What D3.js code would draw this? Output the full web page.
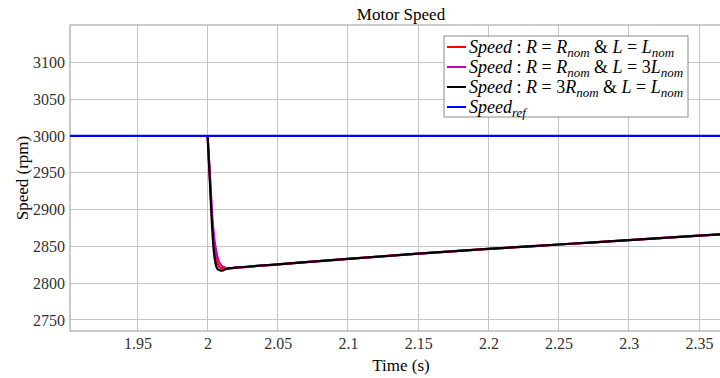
<!DOCTYPE html>
<html><head><meta charset="utf-8">
<script src="https://cdn.jsdelivr.net/npm/d3@7"></script>
<style>
body{margin:0;background:#fff;}
svg{display:block;}
svg text, svg .tick text{font-family:"Liberation Serif","Times New Roman",serif !important;}
</style></head>
<body><svg id="c" width="720" height="378"></svg>
<script>
const xTicks = [1.95, 2, 2.05, 2.1, 2.15, 2.2, 2.25, 2.3, 2.35];
const yTicks = [2750, 2800, 2850, 2900, 2950, 3000, 3050, 3100];
const xDomain = [1.902, 2.3735];
const yDomain = [2735, 3150.7];

const tRed = [2.0, 2.001, 2.002, 2.003, 2.004, 2.005, 2.006, 2.007, 2.008, 2.009, 2.010, 2.012, 2.014, 2.016, 2.02, 2.05, 2.1, 2.15, 2.2, 2.25, 2.3, 2.35, 2.375];
const speedRed = [3000, 2966, 2930, 2893, 2866, 2846, 2834, 2827, 2823, 2821, 2820.3, 2820, 2820.2, 2820.4, 2821, 2825.5, 2833, 2840, 2846.5, 2852.5, 2858.5, 2864.5, 2867.5];

const tMag = [2.0, 2.001, 2.002, 2.003, 2.004, 2.005, 2.006, 2.007, 2.008, 2.009, 2.010, 2.012, 2.014, 2.016, 2.02, 2.05, 2.1, 2.15, 2.2, 2.25, 2.3, 2.35, 2.375];
const speedMag = [3000, 2968, 2935, 2900, 2875, 2857, 2845, 2836, 2830, 2826, 2823.5, 2821.5, 2820.5, 2820.3, 2821, 2825.5, 2833, 2840, 2846.5, 2852.5, 2858.5, 2864.5, 2867.5];

const tBlack = [2.0, 2.001, 2.002, 2.003, 2.004, 2.005, 2.006, 2.007, 2.008, 2.009, 2.010, 2.011, 2.012, 2.014, 2.016, 2.02, 2.05, 2.1, 2.15, 2.2, 2.25, 2.3, 2.35, 2.375];
const speedBlack = [3000, 2962, 2922, 2883, 2853, 2834, 2824, 2819.5, 2818, 2817.3, 2817, 2817.4, 2818.3, 2819.5, 2820.2, 2821, 2825.5, 2833, 2840, 2846.5, 2852.5, 2858.5, 2864.5, 2867.5];

const tRef = [1.902, 2.3735];
const speedRef = [3000, 3000];

const seriesNames = [
  "Speed : R = R_{nom} & L = L_{nom}",
  "Speed : R = R_{nom} & L = 3L_{nom}",
  "Speed : R = 3R_{nom} & L = L_{nom}",
  "Speed_{ref}"
];
const seriesColors = ["#ff0000", "#c000c0", "#000000", "#0000ff"];

const title = "Motor Speed", xLabel = "Time (s)", yLabel = "Speed (rpm)";

const svg = d3.select("#c");
const m = {l:70, r:732, t:25, b:331};
const x = d3.scaleLinear().domain(xDomain).range([m.l, m.r]);
const y = d3.scaleLinear().domain(yDomain).range([m.b, m.t]);
const font = '"Liberation Serif","Times New Roman",serif';

// grid
const g = svg.append("g");
g.selectAll(".gx").data(xTicks).enter().append("line")
  .attr("x1", d=>x(d)).attr("x2", d=>x(d)).attr("y1", m.t).attr("y2", m.b)
  .attr("stroke", "#c6c6c6").attr("stroke-width", 1).attr("shape-rendering","crispEdges");
g.selectAll(".gy").data(yTicks).enter().append("line")
  .attr("x1", m.l).attr("x2", m.r).attr("y1", d=>y(d)).attr("y2", d=>y(d))
  .attr("stroke", "#c6c6c6").attr("stroke-width", 1).attr("shape-rendering","crispEdges");

// axes
const xAxis = d3.axisBottom(x).tickValues(xTicks).tickSize(0).tickPadding(7).tickFormat(d=>d3.format("")(d));
const yAxis = d3.axisLeft(y).tickValues(yTicks).tickSize(0).tickPadding(5).tickFormat(d3.format("d"));
const ax = svg.append("g").attr("transform", `translate(0,${m.b})`).call(xAxis);
const ay = svg.append("g").attr("transform", `translate(${m.l},0)`).call(yAxis);
[ax, ay].forEach(a => {
  a.attr("font-family", font).attr("font-size", 16);
  a.select(".domain").remove();
  a.selectAll("text").attr("font-family", font).attr("font-size", 16).attr("fill", "#333");
});
// box
svg.append("rect").attr("x", m.l).attr("y", m.t).attr("width", m.r-m.l).attr("height", m.b-m.t)
  .attr("fill","none").attr("stroke","#a8a8a8").attr("stroke-width",1.2);

// lines
const series = [
  [tRed, speedRed], [tMag, speedMag], [tBlack, speedBlack], [tRef, speedRef]
];
svg.append("clipPath").attr("id","cp").append("rect")
  .attr("x", m.l).attr("y", m.t).attr("width", m.r-m.l).attr("height", m.b-m.t);
const lg = svg.append("g").attr("clip-path","url(#cp)");
series.forEach((s,i) => {
  const pts = s[0].map((t,j)=>[t, s[1][j]]);
  lg.append("path").datum(pts).attr("d", d3.line().curve(d3.curveMonotoneX).x(d=>x(d[0])).y(d=>y(d[1])))
    .attr("fill","none").attr("stroke", seriesColors[i]).attr("stroke-width", 2.2)
    .attr("stroke-linejoin","round");
});

// titles
svg.append("text").attr("x", (m.l+m.r)/2).attr("y", 20).attr("text-anchor","middle")
  .attr("font-family", font).attr("font-size", 17).attr("fill","#000").text(title);
svg.append("text").attr("x", (m.l+m.r)/2).attr("y", 371).attr("text-anchor","middle")
  .attr("font-family", font).attr("font-size", 17).attr("fill","#000").text(xLabel);
svg.append("text").attr("transform", `translate(28,${(m.t+m.b)/2}) rotate(-90)`).attr("text-anchor","middle")
  .attr("font-family", font).attr("font-size", 17).attr("fill","#000").text(yLabel);

// legend
const lx = 444, ly = 36, lw = 244, lh = 81;
const leg = svg.append("g");
leg.append("rect").attr("x", lx).attr("y", ly).attr("width", lw).attr("height", lh)
  .attr("fill","#fff").attr("stroke","#8c8c8c").attr("stroke-width",1);
seriesNames.forEach((name, i) => {
  const cy = ly + 11 + i*20;
  leg.append("line").attr("x1", lx+3).attr("x2", lx+22).attr("y1", cy).attr("y2", cy)
    .attr("stroke", seriesColors[i]).attr("stroke-width", 2);
  const txt = leg.append("text").attr("x", lx+25).attr("y", cy+6)
    .attr("font-family", font).attr("font-size", 18).attr("fill","#000");
  const re = /([^_]+)|_\{([^}]*)\}/g;
  let mm, sub = false;
  while ((mm = re.exec(name)) !== null) {
    if (mm[1] !== undefined) {
      const parts = mm[1].split(/([:=&]|\d)/).filter(p=>p.trim().length);
      parts.forEach(p => {
        const isOp = /^[:=&]$/.test(p);
        const isNum = /^\d$/.test(p);
        const ts = txt.append("tspan").attr("font-style", (isOp || isNum) ? "normal" : "italic")
          .text(isOp ? "\u2005" + p + "\u2005" : p.replace(/ /g,""));
        if (sub) { ts.attr("dy", -4); sub = false; }
      });
    } else {
      txt.append("tspan").attr("font-style","italic").attr("font-size", 13).attr("dy", 4).text(mm[2]);
      sub = true;
    }
  }
});
</script></body></html>
